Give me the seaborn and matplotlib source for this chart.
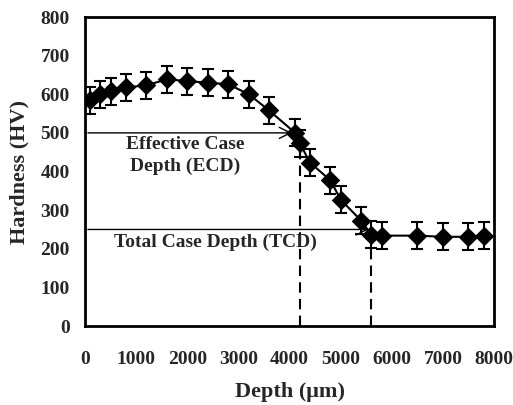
import matplotlib
matplotlib.use("Agg")
import matplotlib.pyplot as plt
import seaborn as sns
import pandas as pd

# Hardness profile values
depth = [100, 300, 500, 800, 1200, 1600, 2000, 2400, 2800, 3200, 3600,
         4100, 4200, 4400, 4800, 5000, 5400, 5600, 5800, 6500, 7000, 7500, 7800]
hardness = [585, 600, 608, 618, 623, 639, 634, 630, 626, 600, 558,
            501, 473, 423, 377, 327, 273, 236, 234, 234, 231, 231, 234]
error = [35] * len(depth)

ecd_depth = 4200
ecd_hardness = 500
tcd_depth = 5600
tcd_hardness = 250

df = pd.DataFrame({"Depth": depth, "Hardness": hardness, "err": error})

sns.set_style("white")
plt.rcParams['font.family'] = ['Liberation Serif', 'DejaVu Serif']
plt.rcParams['font.weight'] = 'bold'

fig = plt.figure(figsize=(5.13, 4.05), dpi=100)
ax = fig.add_axes([0.166, 0.195, 0.797, 0.763])

# Curve and points with error bars
sns.lineplot(data=df, x="Depth", y="Hardness", ax=ax, color="black", linewidth=1.5)
ax.errorbar(df["Depth"], df["Hardness"], yerr=df["err"], fmt="none",
            ecolor="black", elinewidth=1.5, capsize=4, capthick=1.5)
sns.scatterplot(data=df, x="Depth", y="Hardness", ax=ax, marker="D", s=85,
                color="black", edgecolor="black", zorder=5)

# ECD / TCD arrows
ax.annotate("", xy=(4100, ecd_hardness), xytext=(0, ecd_hardness),
            arrowprops=dict(arrowstyle="->", color="black", lw=1, mutation_scale=20))
ax.annotate("", xy=(tcd_depth, tcd_hardness), xytext=(0, tcd_hardness),
            arrowprops=dict(arrowstyle="->", color="black", lw=1, mutation_scale=20))
ax.plot([ecd_depth, ecd_depth], [0, 473], color="black", linestyle="--", linewidth=1.5, dashes=(5, 3))
ax.plot([tcd_depth, tcd_depth], [0, 200], color="black", linestyle="--", linewidth=1.5, dashes=(5, 3))

ax.text(1960, 441, "Effective Case\nDepth (ECD)", ha="center", va="center",
        fontsize=14, fontweight="bold", linespacing=1.35)
ax.text(2550, 216, "Total Case Depth (TCD)", ha="center", va="center",
        fontsize=14, fontweight="bold")

ax.set_xlim(0, 8000)
ax.set_ylim(0, 800)
ax.set_xticks(range(0, 8001, 1000))
ax.set_yticks(range(0, 801, 100))
ax.set_xlabel("Depth (\u03bcm)", fontsize=16, fontweight="bold", labelpad=10)
ax.set_ylabel("Hardness (HV)", fontsize=16, fontweight="bold", labelpad=8)
ax.tick_params(axis="both", direction="out", length=5, width=1.5, labelsize=14, pad=6)
ax.tick_params(axis="x", pad=13)
for lab in ax.get_xticklabels() + ax.get_yticklabels():
    lab.set_fontweight("bold")
for sp in ax.spines.values():
    sp.set_linewidth(2)
    sp.set_color("black")

fig.savefig("out.png", dpi=100)
